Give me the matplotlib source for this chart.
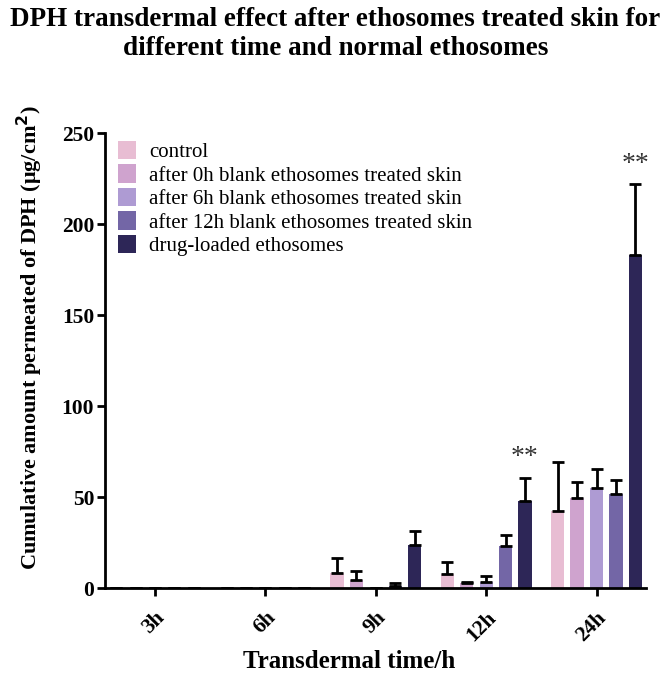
import numpy as np
from matplotlib import pyplot as plt

plt.rcParams['font.family'] = ['Liberation Serif', 'DejaVu Serif']

times = ['3h', '6h', '9h', '12h', '24h']
groups = ['control',
          'after 0h blank ethosomes treated skin',
          'after 6h blank ethosomes treated skin',
          'after 12h blank ethosomes treated skin',
          'drug-loaded ethosomes']
colors = ['#E8BDD3', '#CFA3CE', '#AE9BD3', '#7366A6', '#2D2657']

# values per group, one entry per time point
control = [0, 0, 8.2, 7.7, 42.5]
blank_0h = [0, 0, 4.4, 2.9, 49.6]
blank_6h = [0, 0, 0, 3.3, 54.8]
blank_12h = [0, 0, 1.3, 23.3, 51.5]
drug = [0, 0, 23.6, 47.8, 183.0]

control_sd = [0, 0, 8.5, 6.6, 27.0]
blank_0h_sd = [0, 0, 5.1, 0.7, 8.8]
blank_6h_sd = [0, 0, 0, 3.5, 10.7]
blank_12h_sd = [0, 0, 1.4, 5.7, 8.2]
drug_sd = [0, 0, 7.9, 13.0, 39.0]

stars = {3: '**', 4: '**'}  # time index -> mark above drug bar

values = [control, blank_0h, blank_6h, blank_12h, drug]
errors = [control_sd, blank_0h_sd, blank_6h_sd, blank_12h_sd, drug_sd]


def main():
    fig = plt.figure(figsize=(6.71, 6.73), dpi=100)
    ax = fig.add_axes([0.157, 0.126, 0.806, 0.676])

    x = np.arange(len(times))
    step = 0.176
    width = 0.12
    for i in range(len(groups)):
        pos = x + (i - 2) * step
        ax.bar(pos, values[i], width, color=colors[i], label=groups[i], zorder=2)
        ax.errorbar(pos, values[i], yerr=[np.zeros(len(times)), errors[i]],
                    fmt='none', ecolor='black', elinewidth=2, capsize=4.5,
                    capthick=2, zorder=3)

    for k, s in stars.items():
        ax.text(x[k] + 2 * step, drug[k] + drug_sd[k] + 4, s, ha='center',
                va='bottom', fontsize=20, color='#333333')

    ax.set_xlim(-0.45, 4.45)
    ax.set_ylim(0, 250)
    ax.set_yticks([0, 50, 100, 150, 200, 250])
    ax.set_xticks(x)
    ax.set_xticklabels(times, rotation=45, ha='right', rotation_mode='anchor')
    for lab in ax.get_xticklabels() + ax.get_yticklabels():
        lab.set_fontweight('bold')
        lab.set_fontsize(15.5)
    ax.spines['top'].set_visible(False)
    ax.spines['right'].set_visible(False)
    ax.spines['left'].set_linewidth(2)
    ax.spines['bottom'].set_linewidth(2)
    ax.tick_params(width=2, length=6, direction='out')
    ax.tick_params(axis='x', pad=8)
    ax.tick_params(axis='y', pad=2)

    ax.set_xlabel('Transdermal time/h', fontsize=18, fontweight='bold')
    ax.xaxis.set_label_coords(0.45, -0.136)
    ax.set_ylabel('Cumulative amount permeated of DPH (\u03bcg/cm$^\\mathbf{2}$)',
                  fontsize=16, fontweight='bold')
    ax.yaxis.set_label_coords(-0.112, 0.55)

    ax.legend(loc='upper left', bbox_to_anchor=(-0.012, 1.025), frameon=False,
              fontsize=15, handlelength=0.9, handleheight=1.0,
              handletextpad=0.6, labelspacing=0.1)

    fig.text(0.5, 0.99, 'DPH transdermal effect after ethosomes treated skin for\n'
             'different time and normal ethosomes', ha='center', va='top',
             fontsize=19.5, fontweight='bold', linespacing=1.2)

    fig.savefig('out.png', dpi=100)


if __name__ == '__main__':
    main()
